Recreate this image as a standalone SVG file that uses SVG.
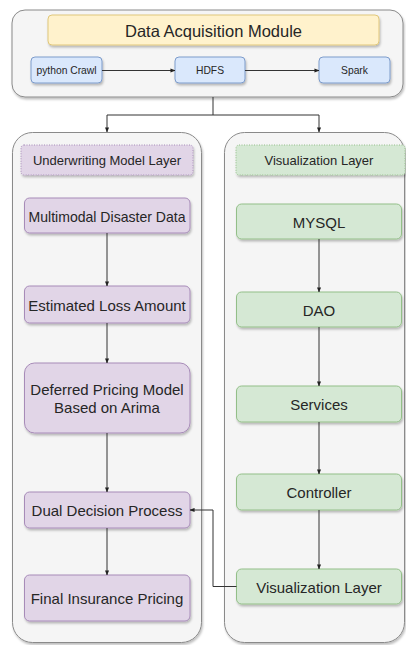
<svg xmlns="http://www.w3.org/2000/svg" width="406" height="645" viewBox="0 0 406 645">
  <style>
    text { font-family: "Liberation Sans", Arial, sans-serif; fill: #262626; text-anchor: middle; dominant-baseline: central; }
    .container { fill: #f5f5f5; stroke: #8a8a8a; stroke-width: 1; filter: url(#shadow); }
    .blue { fill: #dae8fc; stroke: #7d9ccb; stroke-width: 1; filter: url(#shadow); }
    .yellow { fill: #fff2cc; stroke: #e0c77a; stroke-width: 1; filter: url(#shadow); }
    .purple { fill: #e1d5e7; stroke: #a78bb8; stroke-width: 1; filter: url(#shadow); }
    .green { fill: #d5e8d4; stroke: #93bf88; stroke-width: 1; filter: url(#shadow); }
    .dotted { stroke-dasharray: 1 1.5; }
    .edge { fill: none; stroke: #333; stroke-width: 1; marker-end: url(#arrow); }
    .t-title { font-size: 16.5px; }
    .t-small { font-size: 10.3px; }
    .t-head { font-size: 13px; }
    .t-node { font-size: 15px; }
  </style>
  <defs>
    <filter id="shadow" x="-10%" y="-10%" width="125%" height="130%">
      <feDropShadow dx="1" dy="2" stdDeviation="1" flood-color="#000" flood-opacity="0.25"/>
    </filter>
    <marker id="arrow" viewBox="0 0 6 6" refX="5.5" refY="3" markerWidth="5" markerHeight="5" orient="auto" markerUnits="userSpaceOnUse">
      <path d="M0,0.5 L6,3 L0,5.5 Z" fill="#222"/>
    </marker>
  </defs>

  <!-- Data acquisition module -->
  <g id="acquisition">
    <rect class="container" x="12" y="10" width="391" height="87" rx="13"/>
    <g id="acq-title">
      <rect class="yellow" x="48" y="15" width="331" height="30" rx="4"/>
      <text class="t-title" x="213.5" y="30.5">Data Acquisition Module</text>
    </g>
    <g id="python-crawl">
      <rect class="blue" x="31" y="57" width="71" height="26" rx="4"/>
      <text class="t-small" x="66.5" y="70.5">python Crawl</text>
    </g>
    <g id="hdfs">
      <rect class="blue" x="175" y="57" width="70" height="26" rx="4"/>
      <text class="t-small" x="210" y="70.5">HDFS</text>
    </g>
    <g id="spark">
      <rect class="blue" x="319" y="57" width="71" height="26" rx="4"/>
      <text class="t-small" x="354.5" y="70.5">Spark</text>
    </g>
  </g>

  <!-- Underwriting model layer -->
  <g id="underwriting">
    <rect class="container" x="12.5" y="132.5" width="189" height="510" rx="20"/>
    <g id="uw-header">
      <rect class="purple dotted" x="21" y="145" width="172" height="30" rx="3"/>
      <text class="t-head" x="107" y="160.5">Underwriting Model Layer</text>
    </g>
    <g id="multimodal">
      <rect class="purple" x="24.5" y="198" width="165.5" height="35" rx="5"/>
      <text class="t-node" x="107" y="216" textLength="157" lengthAdjust="spacingAndGlyphs">Multimodal Disaster Data</text>
    </g>
    <g id="loss">
      <rect class="purple" x="24.5" y="286" width="165.5" height="37" rx="5"/>
      <text class="t-node" x="107" y="305">Estimated Loss Amount</text>
    </g>
    <g id="arima">
      <rect class="purple" x="24.5" y="363" width="165.5" height="70" rx="10"/>
      <text class="t-node" x="107" y="389">Deferred Pricing Model</text>
      <text class="t-node" x="107" y="407">Based on Arima</text>
    </g>
    <g id="dual">
      <rect class="purple" x="24.5" y="492" width="165.5" height="36" rx="5"/>
      <text class="t-node" x="107" y="510.5">Dual Decision Process</text>
    </g>
    <g id="final">
      <rect class="purple" x="24.5" y="575" width="165.5" height="46" rx="5"/>
      <text class="t-node" x="107" y="598.5">Final Insurance Pricing</text>
    </g>
  </g>

  <!-- Visualization layer -->
  <g id="visualization">
    <rect class="container" x="224.5" y="132.5" width="180" height="510" rx="20"/>
    <g id="vis-header">
      <rect class="green dotted" x="236" y="145" width="169" height="30" rx="3"/>
      <text class="t-head" x="319" y="160.5">Visualization Layer</text>
    </g>
    <g id="mysql">
      <rect class="green" x="236.5" y="204" width="165" height="35" rx="5"/>
      <text class="t-node" x="319" y="222">MYSQL</text>
    </g>
    <g id="dao">
      <rect class="green" x="236.5" y="292" width="165" height="35" rx="5"/>
      <text class="t-node" x="319" y="310">DAO</text>
    </g>
    <g id="services">
      <rect class="green" x="236.5" y="386" width="165" height="36" rx="5"/>
      <text class="t-node" x="319" y="404">Services</text>
    </g>
    <g id="controller">
      <rect class="green" x="236.5" y="474" width="165" height="36" rx="5"/>
      <text class="t-node" x="319" y="492">Controller</text>
    </g>
    <g id="vis-out">
      <rect class="green" x="236.5" y="569" width="165" height="35" rx="5"/>
      <text class="t-node" x="319" y="587">Visualization Layer</text>
    </g>
  </g>

  <!-- Connectors -->
  <g id="connectors">
    <path class="edge" d="M102,70.5 H175"/>
    <path class="edge" d="M245,70.5 H319"/>
    <path class="edge" d="M213,97 V115 H107 V132"/>
    <path class="edge" d="M213,115 H319 V132"/>
    <path class="edge" d="M107,233 V286"/>
    <path class="edge" d="M107,323 V363"/>
    <path class="edge" d="M107,433 V492"/>
    <path class="edge" d="M107,528 V575"/>
    <path class="edge" d="M319,239 V292"/>
    <path class="edge" d="M319,327 V386"/>
    <path class="edge" d="M319,422 V474"/>
    <path class="edge" d="M319,510 V569"/>
    <path class="edge" d="M236.5,586.5 H213 V510 H190"/>
  </g>
</svg>
